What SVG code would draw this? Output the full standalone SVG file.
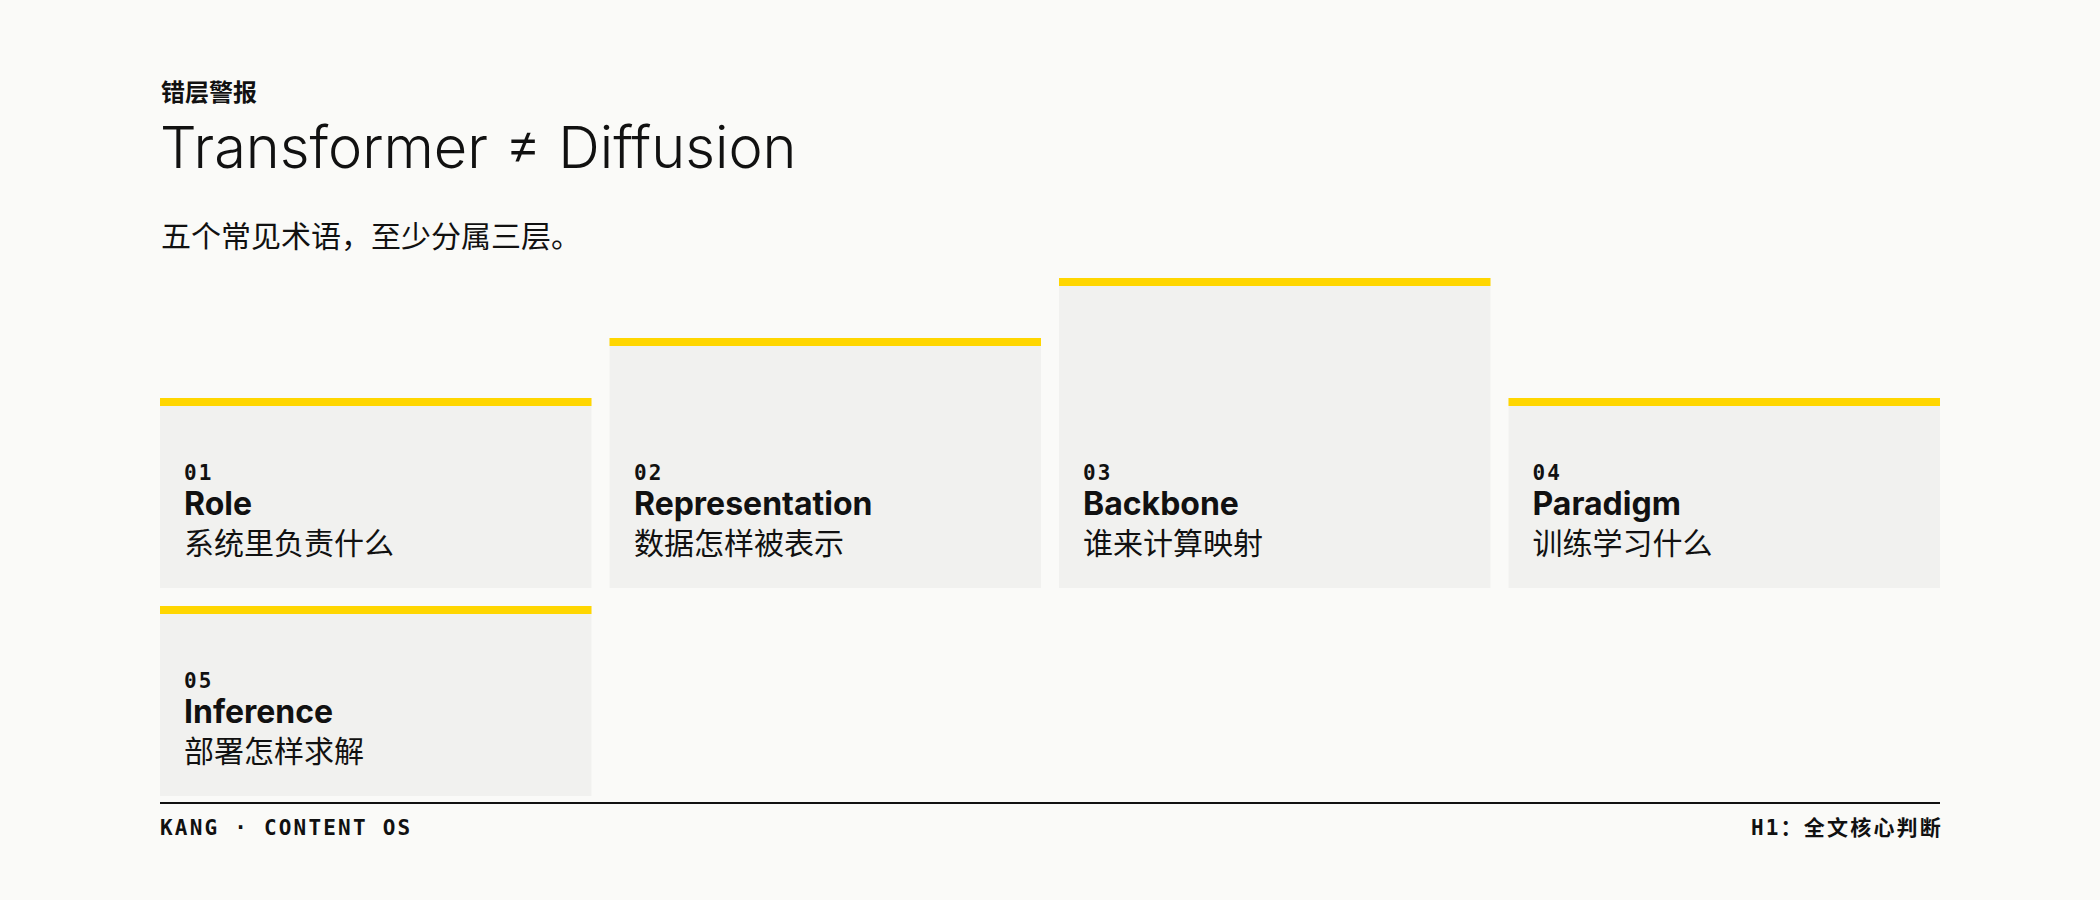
<svg xmlns="http://www.w3.org/2000/svg" width="2100" height="900" viewBox="0 0 2100 900">
<style>
.bg{fill:#FAFAF8}
.card{fill:#F1F1EF}
.bar{fill:#FFD600}
.eyebrow{font-family:"Noto Sans CJK SC","Noto Sans",sans-serif;font-weight:700;font-size:24px;fill:#111}
.title{font-family:Inter,"Liberation Sans",sans-serif;font-weight:300;font-size:57.7px;fill:#111}
.sub{font-family:"Noto Sans CJK SC",sans-serif;font-size:30px;fill:#111}
.num{font-family:"DejaVu Sans Mono","Liberation Mono",monospace;font-weight:700;font-size:21px;letter-spacing:2.2px;fill:#111}
.name{font-family:Inter,"Liberation Sans",sans-serif;font-weight:700;font-size:32px;fill:#111}
.desc{font-family:"Noto Sans CJK SC",sans-serif;font-size:30px;fill:#111}
.foot{font-family:"DejaVu Sans Mono","Liberation Mono","Noto Sans CJK SC",monospace;font-weight:700;font-size:21px;letter-spacing:2.2px;fill:#111}
</style>
<rect class="bg" x="0" y="0" width="2100" height="900"/>
<g id="header">
<text class="eyebrow" x="161" y="101">错层警报</text>
<text class="title" x="160" y="168">Transformer ≠ Diffusion</text>
<text class="sub" x="161" y="247">五个常见术语，至少分属三层。</text>
</g>
<g id="card-01">
<rect class="card" x="160" y="398" width="431.5" height="190"/>
<rect class="bar" x="160" y="398" width="431.5" height="8"/>
<text class="num" x="184" y="480">01</text>
<text class="name" x="184" y="515">Role</text>
<text class="desc" x="184" y="554">系统里负责什么</text>
</g>
<g id="card-02">
<rect class="card" x="609.5" y="338" width="431.5" height="250"/>
<rect class="bar" x="609.5" y="338" width="431.5" height="8"/>
<text class="num" x="634" y="480">02</text>
<text class="name" x="634" y="515">Representation</text>
<text class="desc" x="634" y="554">数据怎样被表示</text>
</g>
<g id="card-03">
<rect class="card" x="1059" y="278" width="431.5" height="310"/>
<rect class="bar" x="1059" y="278" width="431.5" height="8"/>
<text class="num" x="1083" y="480">03</text>
<text class="name" x="1083" y="515">Backbone</text>
<text class="desc" x="1083" y="554">谁来计算映射</text>
</g>
<g id="card-04">
<rect class="card" x="1508.5" y="398" width="431.5" height="190"/>
<rect class="bar" x="1508.5" y="398" width="431.5" height="8"/>
<text class="num" x="1532.5" y="480">04</text>
<text class="name" x="1532.5" y="515">Paradigm</text>
<text class="desc" x="1532.5" y="554">训练学习什么</text>
</g>
<g id="card-05">
<rect class="card" x="160" y="606" width="431.5" height="190"/>
<rect class="bar" x="160" y="606" width="431.5" height="8"/>
<text class="num" x="184" y="688">05</text>
<text class="name" x="184" y="723">Inference</text>
<text class="desc" x="184" y="762">部署怎样求解</text>
</g>
<g id="connectors"></g>
<g id="footer">
<rect x="160" y="802" width="1780" height="2" fill="#111"/>
<text class="foot" x="160" y="835">KANG · CONTENT OS</text>
<text class="foot" x="1943" y="835" text-anchor="end" letter-spacing="3.6">H1：全文核心判断</text>
</g>
</svg>
